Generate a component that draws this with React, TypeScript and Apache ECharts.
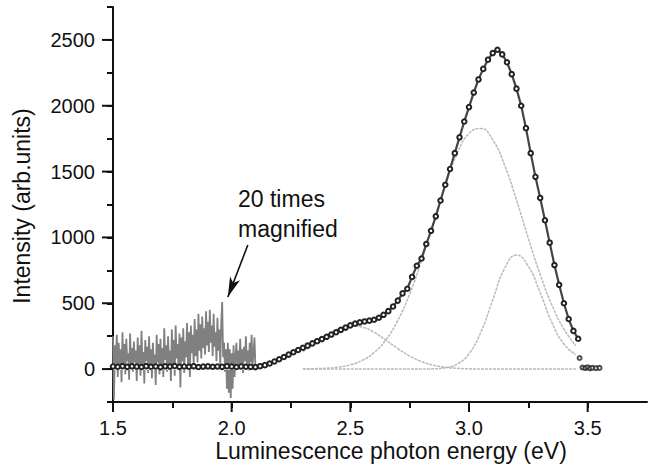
import React, { useEffect, useRef } from 'react';
import * as echarts from 'echarts';

// ---- axis ticks ----
const X_LABELS = [1.5, 2.0, 2.5, 3.0, 3.5];
const Y_LABELS = [0, 500, 1000, 1500, 2000, 2500];

// ---- 20x magnified noisy spectrum, 1.500 .. 2.100 eV, step 0.004 ----
const NOISE_START = 1.5;
const NOISE_STEP = 0.004;
const noiseValues = [
  250, -230, 180, 20, 260, -60, 200, 40, 150, -100, 280, 10, 190, -40, 230, 60, 120, -80, 270, 30, 160, -20, 210, 50, 140,
  -90, 240, 20, 180, -50, 290, 40, 130, -110, 220, 60, 170, -30, 250, 10, 150, -70, 200, 30, 110, -120, 260, 50, 190, -40,
  230, 20, 160, -60, 310, 70, 180, -20, 250, 40, 140, -90, 300, 30, 220, -50, 330, 80, 190, 0, 270, -140, 240, 60, 310,
  -30, 210, 90, 350, 20, 280, -60, 330, 120, 260, 30, 380, 100, 300, 50, 420, 140, 340, 80, 400, 160, 310, 110, 440, 180,
  360, 130, 450, 200, 330, 100, 420, 170, 280, 60, 390, 140, 300, 20, 350, 510, 90, 200, -20, 150, -150, 200, -180, 150, -220,
  120, -150, 180, -60, 90, 200, 10, 140, 40, 230, 20, 150, -30, 170, 60, 250, 30, 140, -10, 200, 50, 260, 20, 120, 240,
  30,
];

// ---- measured spectrum (circles), 1.50 .. 3.46 eV, step 0.02 ----
const MEAS_START = 1.5;
const MEAS_STEP = 0.02;
const measuredValues = [
  20, 18, 22, 17, 21, 19, 16, 22, 18, 20, 15, 21, 19, 23, 17, 20, 18, 22, 16, 19, 21, 18, 20, 17, 22, 19, 16, 20, 18, 17,
  15, 22, 30, 42, 58, 75, 92, 110, 128, 145, 162, 178, 195, 212, 228, 245, 262, 280, 298, 315,
  332, 345, 355, 362, 368, 375, 390, 412, 440, 475, 520, 575, 610, 700, 785, 840, 950, 1050, 1160, 1280,
  1400, 1520, 1640, 1760, 1880, 1990, 2100, 2200, 2280, 2350, 2400, 2425, 2390, 2330, 2240, 2130, 2000, 1830, 1640, 1460,
  1300, 1130, 960, 790, 640, 500, 380, 290, 230,
];
const tailEnergy = [3.466, 3.478, 3.49, 3.5, 3.51, 3.52, 3.535, 3.55];
const tailValues = [84, 12, 8, 14, 6, 10, 7, 9];

// ---- Gaussian fit components, 2.30 .. 3.45 eV, step 0.05 ----
const FIT_START = 2.3;
const FIT_STEP = 0.05;
const peak1 = [132, 194, 257, 306, 329, 319, 279, 219, 156, 99, 57, 30, 14, 6, 2, 0, 0, 0, 0, 0, 0, 0, 0, 0];
const peak2 = [1, 3, 6, 15, 32, 66, 125, 223, 369, 571, 824, 1110, 1395, 1636, 1790, 1827, 1741, 1548, 1284, 993, 718, 484, 304, 178];
const peak3 = [0, 0, 0, 0, 0, 0, 0, 0, 0, 0, 0, 2, 10, 38, 117, 281, 525, 764, 866, 781, 580, 350, 190, 110];

// baseline under the magnified region
const baseEnergy = [1.5, 2.1];
const baseValues = [0, 0];

// arrow annotation (data coordinates: tail -> head)
const arrowFrom = [2.068, 942];
const arrowTo = [1.984, 547];

const X_TITLE = 'Luminescence photon energy (eV)';
const Y_TITLE = 'Intensity (arb.units)';
const NOTE = '20 times\nmagnified';

const X_MIN = 1.5, X_MAX = 3.75, Y_MIN = -250, Y_MAX = 2750;
const FONT = '"Liberation Sans", Arial, sans-serif';
const INK = '#111';

const grid = (start: number, step: number, vals: number[]) =>
  vals.map((v, i) => [Math.round((start + i * step) * 10000) / 10000, v]);

const isIn = (list: number[], v: number) => list.some((t) => Math.abs(t - v) < 1e-9);

export default function App() {
  const ref = useRef<HTMLDivElement>(null);
  useEffect(() => {
    if (!ref.current) return;
    const chart = echarts.init(ref.current, undefined, { renderer: 'svg' });
    const fitStyle = { color: '#bababa', width: 1.5, type: [3, 1] as any };
    chart.setOption({
      animation: false,
      backgroundColor: '#fff',
      grid: { left: 113, right: 1, top: 7, bottom: 66, containLabel: false },
      xAxis: {
        type: 'value', min: X_MIN, max: X_MAX, interval: 0.25, position: 'bottom',
        axisLine: { show: true, onZero: false, lineStyle: { color: INK, width: 2 } },
        axisTick: { show: true, inside: false, length: 6, lineStyle: { color: INK, width: 2 } },
        axisLabel: {
          formatter: (v: number) => (isIn(X_LABELS, v) ? v.toFixed(1) : ''),
          fontSize: 20, color: INK, margin: 16, fontFamily: FONT, showMaxLabel: false,
        },
        splitLine: { show: false },
      },
      yAxis: {
        type: 'value', min: Y_MIN, max: Y_MAX, interval: 250, position: 'left',
        axisLine: { show: true, onZero: false, lineStyle: { color: INK, width: 2 } },
        axisTick: { show: true, inside: false, length: 6, lineStyle: { color: INK, width: 2 } },
        axisLabel: {
          formatter: (v: number) => (isIn(Y_LABELS, v) ? String(Math.round(v)) : ''),
          fontSize: 20, color: INK, margin: 18, fontFamily: FONT,
        },
        splitLine: { show: false },
      },
      series: [
        {
          type: 'line', data: grid(NOISE_START, NOISE_STEP, noiseValues),
          showSymbol: false, lineStyle: { color: '#808080', width: 1.8 }, z: 1,
          markLine: {
            silent: true, symbol: ['none', 'arrow'], symbolSize: [8, 20],
            lineStyle: { color: INK, width: 1.6, type: 'solid' }, label: { show: false },
            data: [[{ coord: arrowFrom }, { coord: arrowTo }]],
          },
        },
        {
          type: 'line', data: baseEnergy.map((e, i) => [e, baseValues[i]]),
          showSymbol: false, lineStyle: { color: '#e4e4e4', width: 2 }, z: 2,
        },
        { type: 'line', data: grid(FIT_START, FIT_STEP, peak1), smooth: true, showSymbol: false, lineStyle: fitStyle, z: 3 },
        { type: 'line', data: grid(FIT_START, FIT_STEP, peak2), smooth: true, showSymbol: false, lineStyle: fitStyle, z: 3 },
        { type: 'line', data: grid(FIT_START, FIT_STEP, peak3), smooth: true, showSymbol: false, lineStyle: fitStyle, z: 3 },
        {
          type: 'line', data: grid(MEAS_START, MEAS_STEP, measuredValues),
          symbol: 'emptyCircle', symbolSize: 4.5, showSymbol: true, showAllSymbol: true,
          itemStyle: { color: '#222', borderWidth: 1 }, lineStyle: { color: '#444', width: 2.2 }, z: 4,
        },
        {
          type: 'scatter', data: tailEnergy.map((e, i) => [e, tailValues[i]]),
          symbol: 'emptyCircle', symbolSize: 4, itemStyle: { color: '#222', borderWidth: 1 }, z: 4,
        },
      ],
    });

    // longer ticks at labelled values, placed through the chart's own scales
    const ticks: any[] = [];
    X_LABELS.forEach((v) => {
      const p = chart.convertToPixel({ gridIndex: 0 }, [v, Y_MIN]) as number[];
      ticks.push({ type: 'rect', z: 100, silent: true, shape: { x: p[0] - 1, y: p[1], width: 2, height: 10 }, style: { fill: INK } });
    });
    Y_LABELS.forEach((v) => {
      const p = chart.convertToPixel({ gridIndex: 0 }, [X_MIN, v]) as number[];
      ticks.push({ type: 'rect', z: 100, silent: true, shape: { x: p[0] - 11, y: p[1] - 1, width: 11, height: 2 }, style: { fill: INK } });
    });

    chart.setOption({
      graphic: [
        ...ticks,
        {
          type: 'text', left: 238, top: 184,
          style: { text: NOTE, font: `23px ${FONT}`, lineHeight: 30, fill: INK },
        },
        {
          type: 'text', x: 391, y: 451,
          style: { text: X_TITLE, font: `23px ${FONT}`, fill: INK, align: 'center', verticalAlign: 'middle' },
        },
        {
          type: 'text', x: 22, y: 206, rotation: Math.PI / 2,
          style: { text: Y_TITLE, font: `23px ${FONT}`, fill: INK, align: 'center', verticalAlign: 'middle' },
        },
      ],
    });
    return () => chart.dispose();
  }, []);
  return <div ref={ref} style={{ position: 'fixed', left: 0, top: 0, width: 648, height: 468, background: '#fff' }} />;
}
